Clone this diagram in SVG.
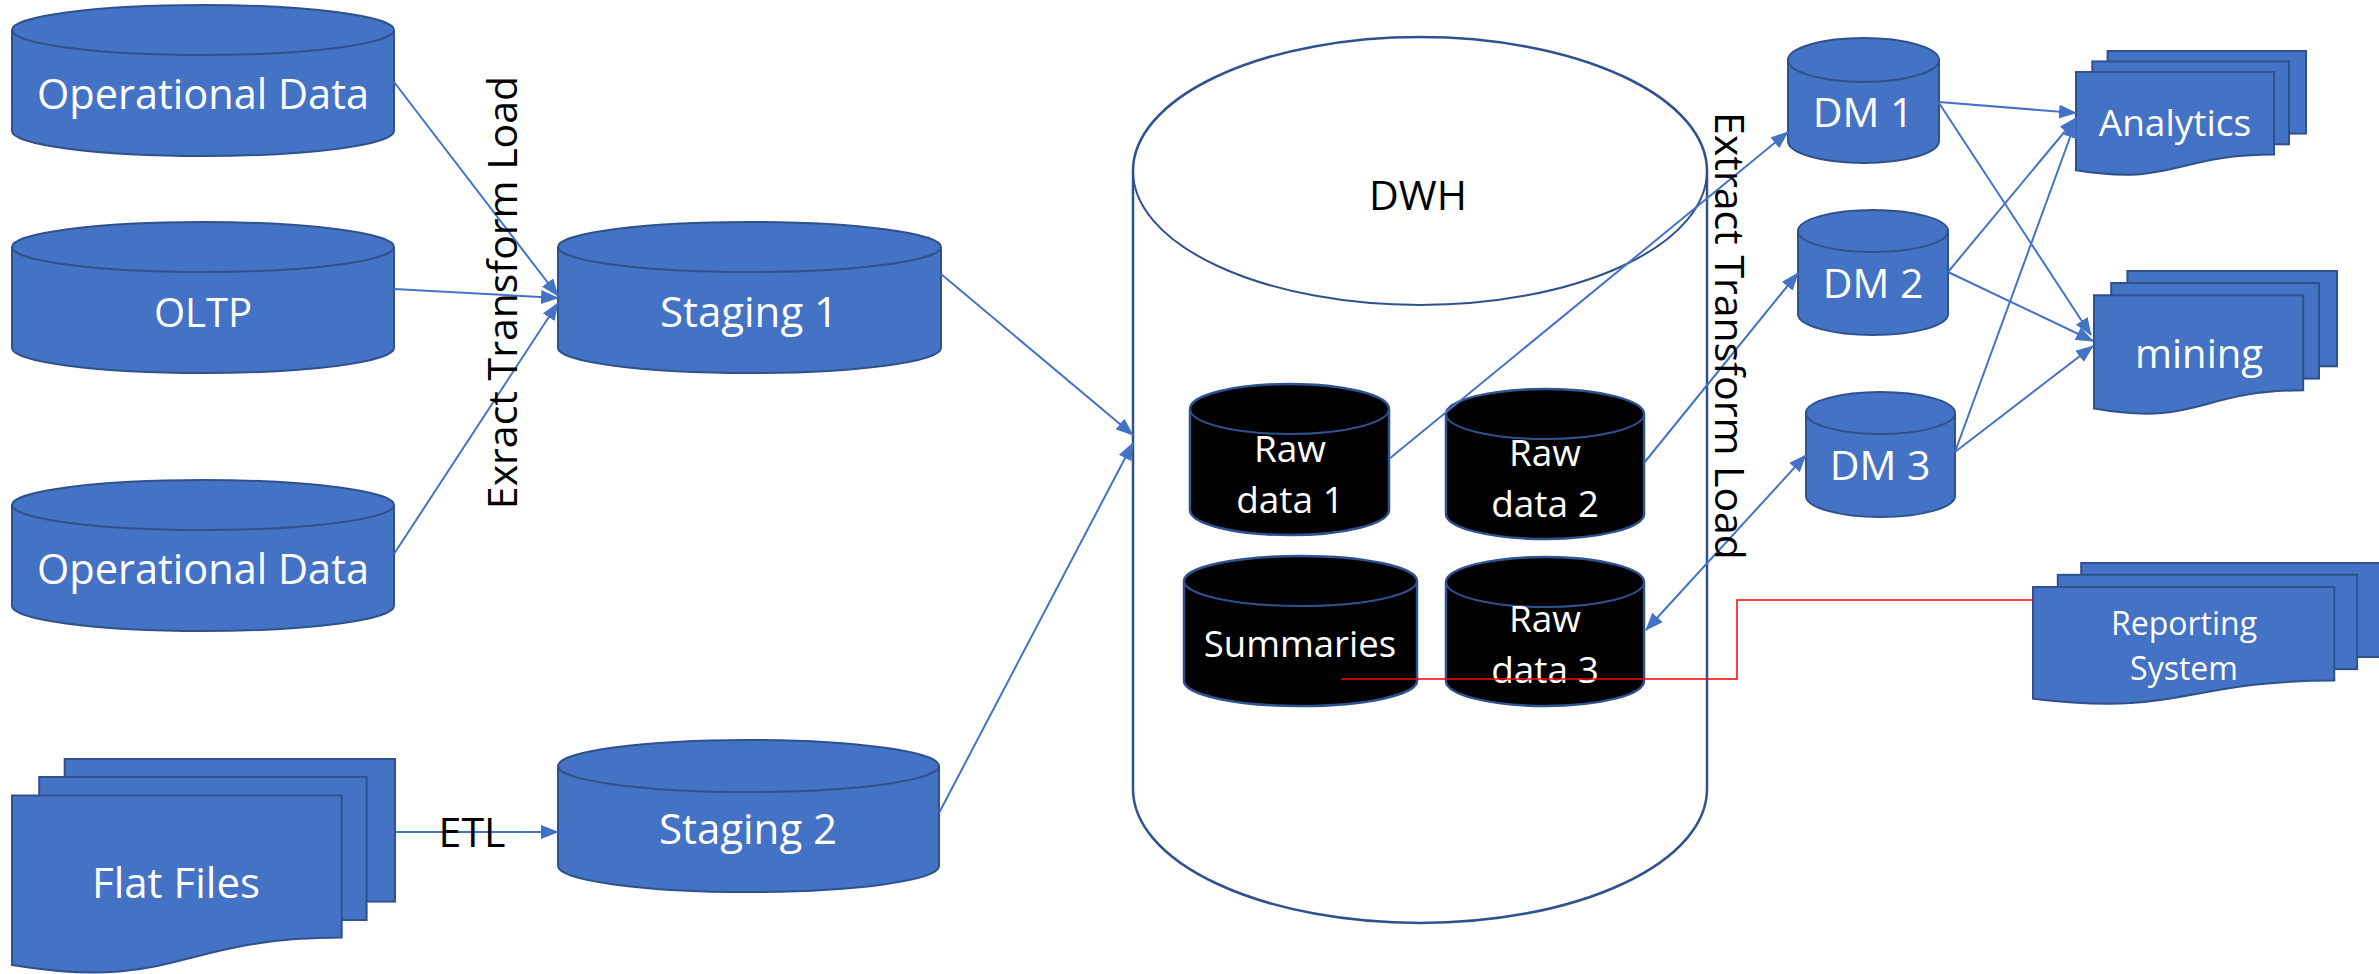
<svg xmlns="http://www.w3.org/2000/svg" width="2379" height="974" viewBox="0 0 2379 974">
<style>
.db{fill:#4472C4;stroke:#2F528F;stroke-width:2}
.rd{fill:#000;stroke:#2F528F;stroke-width:2.5}
.dw{fill:#fff;stroke:#2F528F;stroke-width:2.5}
.ln{fill:none;stroke:#2F528F;stroke-width:2}
.t{font-family:"Open Sans","Noto Sans","Liberation Sans",sans-serif;text-anchor:middle}
.w{fill:#fff}
.k{fill:#000}
.c{fill:none;stroke:#4472C4;stroke-width:2}
</style>
<defs>
<marker id="a" markerUnits="userSpaceOnUse" markerWidth="18" markerHeight="14" refX="17" refY="7" orient="auto-start-reverse" viewBox="0 0 18 14">
<path d="M0,0 L18,7 L0,14 Z" fill="#4472C4"/>
</marker>
</defs>

<g id="dwh">
<path class="dw" d="M1133,171 A287,134 0 0 1 1707,171 L1707,789 A287,134 0 0 1 1133,789 Z"/>
<path class="ln" d="M1133,171 A287,134 0 0 0 1707,171" stroke-width="2.5"/>
<text class="t k" x="1418" y="210" font-size="41">DWH</text>
</g>

<g id="op1">
<path class="db" d="M12,30 A191,25 0 0 1 394,30 L394,131 A191,25 0 0 1 12,131 Z"/>
<path class="ln" d="M12,30 A191,25 0 0 0 394,30"/>
<text class="t w" x="203" y="109" font-size="41.5">Operational Data</text>
</g>
<g id="oltp">
<path class="db" d="M12,247 A191,25 0 0 1 394,247 L394,348 A191,25 0 0 1 12,348 Z"/>
<path class="ln" d="M12,247 A191,25 0 0 0 394,247"/>
<text class="t w" x="203" y="327" font-size="40">OLTP</text>
</g>
<g id="op2">
<path class="db" d="M12,505 A191,25 0 0 1 394,505 L394,606 A191,25 0 0 1 12,606 Z"/>
<path class="ln" d="M12,505 A191,25 0 0 0 394,505"/>
<text class="t w" x="203" y="584" font-size="41.5">Operational Data</text>
</g>
<g id="flat">
<rect class="db" x="64.7" y="759" width="330.3" height="142.6"/>
<rect class="db" x="39.2" y="777" width="327.4" height="143"/>
<path class="db" d="M12,964.9 C176.9,992.2 176.9,937.6 341.7,937.6 L341.7,795.4 L12,795.4 Z"/>
<text class="t w" x="176" y="898" font-size="42">Flat Files</text>
</g>
<g id="stg1">
<path class="db" d="M558,247 A191.5,25 0 0 1 941,247 L941,348 A191.5,25 0 0 1 558,348 Z"/>
<path class="ln" d="M558,247 A191.5,25 0 0 0 941,247"/>
<text class="t w" x="749" y="327" font-size="42">Staging 1</text>
</g>
<g id="stg2">
<path class="db" d="M558,766 A190.5,26 0 0 1 939,766 L939,866 A190.5,26 0 0 1 558,866 Z"/>
<path class="ln" d="M558,766 A190.5,26 0 0 0 939,766"/>
<text class="t w" x="748" y="844" font-size="42">Staging 2</text>
</g>

<g id="raw1">
<path class="rd" d="M1190,409 A99.5,25 0 0 1 1389,409 L1389,510 A99.5,25 0 0 1 1190,510 Z"/>
<path class="ln" d="M1190,409 A99.5,25 0 0 0 1389,409" stroke-width="2.5"/>
<text class="t w" x="1290" y="462" font-size="37">Raw</text>
<text class="t w" x="1290" y="513" font-size="37">data 1</text>
</g>
<g id="raw2">
<path class="rd" d="M1446,414 A99,25 0 0 1 1644,414 L1644,514 A99,25 0 0 1 1446,514 Z"/>
<path class="ln" d="M1446,414 A99,25 0 0 0 1644,414" stroke-width="2.5"/>
<text class="t w" x="1545" y="466" font-size="37">Raw</text>
<text class="t w" x="1545" y="517" font-size="37">data 2</text>
</g>
<g id="summ">
<path class="rd" d="M1184,581 A116.5,25 0 0 1 1417,581 L1417,681 A116.5,25 0 0 1 1184,681 Z"/>
<path class="ln" d="M1184,581 A116.5,25 0 0 0 1417,581" stroke-width="2.5"/>
<text class="t w" x="1300" y="657" font-size="36.5">Summaries</text>
</g>
<g id="raw3">
<path class="rd" d="M1446,582 A99,25 0 0 1 1644,582 L1644,681 A99,25 0 0 1 1446,681 Z"/>
<path class="ln" d="M1446,582 A99,25 0 0 0 1644,582" stroke-width="2.5"/>
<text class="t w" x="1545" y="632" font-size="37">Raw</text>
<text class="t w" x="1545" y="683" font-size="37">data 3</text>
</g>

<g id="dm1">
<path class="db" d="M1788,60 A75.5,22 0 0 1 1939,60 L1939,141 A75.5,22 0 0 1 1788,141 Z"/>
<path class="ln" d="M1788,60 A75.5,22 0 0 0 1939,60"/>
<text class="t w" x="1863" y="127" font-size="41">DM 1</text>
</g>
<g id="dm2">
<path class="db" d="M1798,231 A75,21 0 0 1 1948,231 L1948,314 A75,21 0 0 1 1798,314 Z"/>
<path class="ln" d="M1798,231 A75,21 0 0 0 1948,231"/>
<text class="t w" x="1873" y="298" font-size="41">DM 2</text>
</g>
<g id="dm3">
<path class="db" d="M1806,413 A74.5,21 0 0 1 1955,413 L1955,496 A74.5,21 0 0 1 1806,496 Z"/>
<path class="ln" d="M1806,413 A74.5,21 0 0 0 1955,413"/>
<text class="t w" x="1880" y="480" font-size="41">DM 3</text>
</g>

<g id="analytics">
<rect class="db" x="2107.6" y="51" width="198.4" height="82.6"/>
<rect class="db" x="2092.3" y="61.4" width="196.7" height="82.9"/>
<path class="db" d="M2076,170.3 C2175,186.1 2175,154.5 2274,154.5 L2274,72.1 L2076,72.1 Z"/>
<text class="t w" x="2175" y="136" font-size="37">Analytics</text>
</g>
<g id="mining">
<rect class="db" x="2127.4" y="271" width="209.6" height="95.3"/>
<rect class="db" x="2111.2" y="283" width="207.8" height="95.6"/>
<path class="db" d="M2094,408.6 C2198.6,426.9 2198.6,390.3 2303.2,390.3 L2303.2,295.3 L2094,295.3 Z"/>
<text class="t w" x="2199" y="368" font-size="40">mining</text>
</g>
<g id="reporting">
<rect class="db" x="2081.2" y="563" width="301.8" height="94"/>
<rect class="db" x="2057.8" y="574.8" width="299.3" height="94.3"/>
<path class="db" d="M2033,698.7 C2183.7,716.7 2183.7,680.6 2334.3,680.6 L2334.3,587 L2033,587 Z"/>
<text class="t w" x="2184" y="635" font-size="32">Reporting</text>
<text class="t w" x="2184" y="680" font-size="32">System</text>
</g>

<g id="connectors">
<line class="c" x1="394" y1="82" x2="558" y2="296" marker-end="url(#a)"/>
<line class="c" x1="394" y1="289" x2="558" y2="298" marker-end="url(#a)"/>
<line class="c" x1="394" y1="554" x2="558" y2="303" marker-end="url(#a)"/>
<line class="c" x1="395" y1="832" x2="558" y2="832" marker-end="url(#a)"/>
<line class="c" x1="941" y1="274" x2="1133" y2="435" marker-end="url(#a)"/>
<line class="c" x1="939" y1="813" x2="1133" y2="443" marker-end="url(#a)"/>
<line class="c" x1="1389" y1="459" x2="1788" y2="132" marker-end="url(#a)"/>
<line class="c" x1="1644" y1="463" x2="1798" y2="273" marker-end="url(#a)"/>
<line class="c" x1="1646" y1="630" x2="1806" y2="455" marker-start="url(#a)" marker-end="url(#a)"/>
<line class="c" x1="1939" y1="102" x2="2076" y2="113" marker-end="url(#a)"/>
<line class="c" x1="1939" y1="103" x2="2091" y2="335" marker-end="url(#a)"/>
<line class="c" x1="1948" y1="272" x2="2076" y2="118" marker-end="url(#a)"/>
<line class="c" x1="1948" y1="272" x2="2093" y2="341" marker-end="url(#a)"/>
<line class="c" x1="1955" y1="452" x2="2076" y2="121" marker-end="url(#a)"/>
<line class="c" x1="1955" y1="452" x2="2093" y2="346" marker-end="url(#a)"/>
<polyline points="1341,679 1737,679 1737,600 2033,600" fill="none" stroke="#FF0000" stroke-width="1.5"/>
</g>

<g id="labels">
<text class="t k" font-size="41" transform="translate(517,292.5) rotate(-90)">Exract Transform Load</text>
<text class="t k" font-size="41" transform="translate(1715,336) rotate(90)">Extract Transform Load</text>
<text class="t k" x="472" y="847" font-size="41">ETL</text>
</g>
</svg>
